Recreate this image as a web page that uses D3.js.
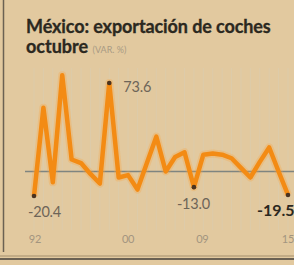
<!DOCTYPE html>
<html>
<head>
<meta charset="utf-8">
<script src="https://cdn.jsdelivr.net/npm/d3@7"></script>
<style>
  body { margin: 0; background: #e2c99f; }
  svg { display: block; }
</style>
</head>
<body>
<script>
// October year-on-year change, one value per point
var values = [-20.4, 53, -9, 80, 10, 7, -2, -10, 73.6, -5, -3, -15, 7, 29, 0, 12, 16, -13.0,
              14, 15, 14, 11, 3, -5, 8, 20, 0, -19.5];
var tickLabels = ["92", "00", "09", "15"];
var tickIndex = [0, 10, 18, 27];
var noted = [0, 8, 17, 27];  // points carrying a value label

var width = 294, height = 265;

var svg = d3.select("body").append("svg")
	.attr("width", width)
	.attr("height", height);

svg.append("rect").attr("width", width).attr("height", height).attr("fill", "#e2c99f");

// frame pieces from the page
svg.append("line").attr("x1", 3.5).attr("x2", 3.5).attr("y1", 0).attr("y2", 252)
	.attr("stroke", "#6b6152").attr("stroke-width", 1.5);
svg.append("line").attr("x1", 0).attr("x2", width).attr("y1", 256).attr("y2", 256)
	.attr("stroke", "#b9a27e").attr("stroke-width", 1.5);
svg.append("line").attr("x1", 0).attr("x2", width).attr("y1", 259).attr("y2", 259)
	.attr("stroke", "#6b6152").attr("stroke-width", 2);

var x = d3.scaleLinear().domain([0, values.length - 1]).range([34, 288]);
var y = d3.scaleLinear().domain([0, 73.6]).range([171.5, 83]);

// title
svg.append("text").attr("x", 26).attr("y", 33)
	.attr("font-family", "Lato").attr("font-weight", "bold")
	.attr("font-size", 18).attr("fill", "#2b2820").attr("letter-spacing", -0.1)
	.attr("stroke", "#2b2820").attr("stroke-width", 0.3)
	.text("México: exportación de coches");
var t2 = svg.append("text").attr("x", 26).attr("y", 53)
	.attr("font-family", "Lato").attr("font-weight", "bold")
	.attr("font-size", 18).attr("fill", "#2b2820").attr("letter-spacing", 0);
t2.append("tspan").attr("stroke", "#2b2820").attr("stroke-width", 0.3).text("octubre ");
t2.append("tspan").attr("font-size", 9).attr("font-weight", "normal")
	.attr("fill", "#a89a84").attr("letter-spacing", 0).text("(VAR. %)");

// faint vertical guides
svg.append("g").selectAll("line")
	.data(values)
	.enter()
	.append("line")
	.attr("x1", function(d, i){ return x(i); })
	.attr("x2", function(d, i){ return x(i); })
	.attr("y1", 68).attr("y2", 230)
	.attr("stroke", "#cfd3cc").attr("stroke-width", 1).attr("opacity", 0.25);

// zero line
svg.append("line").attr("x1", 25).attr("x2", width).attr("y1", y(0)).attr("y2", y(0))
	.attr("stroke", "#7f8580").attr("stroke-width", 1.5);

var line = d3.line()
	.x(function(d, i){ return x(i); })
	.y(function(d){ return y(d); });

svg.append("path").datum(values).attr("d", line)
	.attr("fill", "none").attr("stroke", "#f7a642").attr("stroke-width", 8)
	.attr("stroke-opacity", 0.3).attr("stroke-linejoin", "round");
svg.append("path").datum(values).attr("d", line)
	.attr("fill", "none").attr("stroke", "#f38b14").attr("stroke-width", 4.5)
	.attr("stroke-linejoin", "round");

svg.selectAll("circle.dot")
	.data(noted)
	.enter()
	.append("circle")
	.attr("cx", function(i){ return x(i); })
	.attr("cy", function(i){ return y(values[i]); })
	.attr("r", 2.3)
	.attr("fill", "#4a3320");

// value labels
var fmt = function(v){ return d3.format(".1f")(v).replace("−", "-"); };
var labelOff = [[-6, 21], [14, 9], [-17, 22], [-31, 21]];
svg.selectAll("text.val")
	.data(noted)
	.enter()
	.append("text")
	.attr("x", function(i, k){ return x(i) + labelOff[k][0]; })
	.attr("y", function(i, k){ return y(values[i]) + labelOff[k][1]; })
	.attr("font-family", "Lato")
	.attr("font-size", function(i, k){ return k == 3 ? 16 : 14.5; })
	.attr("font-weight", function(i, k){ return k == 3 ? "bold" : "normal"; })
	.attr("letter-spacing", function(i, k){ return k == 3 ? 0 : -0.2; })
	.attr("fill", function(i, k){ return k == 3 ? "#2b2820" : "#6e6558"; })
	.text(function(i){ return fmt(values[i]); });

// year labels
svg.selectAll("text.year")
	.data(tickLabels)
	.enter()
	.append("text")
	.attr("x", function(d, k){ return x(tickIndex[k]) + (k == 0 ? 1 : k == 2 ? -1 : 0); })
	.attr("y", 243)
	.attr("text-anchor", "middle")
	.attr("font-family", "Lato")
	.attr("font-size", 11)
	.attr("letter-spacing", -0.2)
	.attr("fill", "#a3957f")
	.text(function(d){ return d; });
</script>
</body>
</html>
